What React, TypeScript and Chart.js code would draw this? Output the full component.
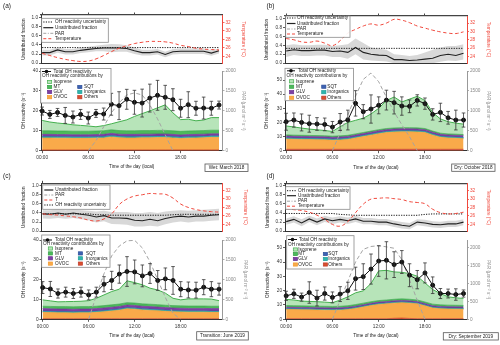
import React, { useEffect, useRef } from 'react';
import { Chart, registerables } from 'chart.js';
Chart.register(...registerables);

const FONT = "'Liberation Sans', Arial, Helvetica, sans-serif";
const TICK_FS = 4.7;
const TITLE_FS = 4.6;
const LEG_FS = 4.7;
const LH = 1.2;
const RED = '#f0483c';
const PAR_GREY = '#a3a3a3';

const hours = [0, 1, 2, 3, 4, 5, 6, 7, 8, 9, 10, 11, 12, 13, 14, 15, 16, 17, 18, 19, 20, 21, 22, 23];
const hourTicks = [0, 6, 12, 18];
const hourTickLabels = ['00:00', '06:00', '12:00', '18:00'];
const fracTicks = [0, 0.2, 0.4, 0.6, 0.8, 1.0];
const tempTicks = [24, 26, 28, 30, 32];
const parTicks = [0, 500, 1000, 1500, 2000];
const ohTicks40 = [0, 10, 20, 30, 40];
const ohTicks50 = [0, 10, 20, 30, 40, 50];

// stacking order, bottom -> top
const componentNames = ['Others', 'OVOC', 'Inorganics', 'SQT', 'GLV', 'MT', 'Isoprene'];
const componentFill = ['#d9502e', '#f9aa4a', '#2fb5ad', '#3d62b3', '#7d3fa3', '#4cba5a', '#b7e4b9'];
const componentLine = ['#c0392b', '#f39a2c', '#1f9e98', '#2d4f9a', '#6a2f90', '#34a046', '#45b04f'];
const legendCol1 = ['Isoprene', 'MT', 'GLV', 'OVOC'];
const legendCol2 = ['SQT', 'Inorganics', 'Others'];

const legendTextsStd = ['OH reactivity uncertainty', 'Unattributed fraction', 'PAR', 'Temperature'];
const legendTextsC = ['Unattributed fraction', 'PAR', 'T', 'OH reactivity uncertainty'];

// ---------- Panel (a) Wet: March 2018 ----------
const aTotal = [19.9, 18.2, 19.2, 17.7, 16.9, 18.2, 16.4, 18.7, 18.4, 23.3, 22.6, 25.8, 24.3, 23.9, 26.4, 27.8, 26.8, 25.6, 21.3, 23.1, 21.3, 21.4, 21.3, 22.9];
const aErr = [2.0, 2.0, 2.0, 4.0, 3.0, 2.5, 3.0, 2.0, 3.0, 5.5, 7.0, 5.0, 6.0, 7.0, 7.0, 7.5, 6.0, 5.5, 4.5, 6.5, 3.5, 5.5, 3.5, 2.0];
const aOthers = [0.4, 0.4, 0.4, 0.4, 0.4, 0.4, 0.4, 0.4, 0.4, 0.4, 0.4, 0.4, 0.4, 0.4, 0.4, 0.4, 0.4, 0.4, 0.4, 0.4, 0.4, 0.4, 0.4, 0.4];
const aOVOC = [6.0, 6.0, 5.9, 5.9, 5.8, 5.8, 5.8, 5.9, 6.0, 6.5, 6.1, 6.0, 6.0, 6.1, 6.1, 6.2, 6.2, 6.0, 5.7, 5.9, 6.0, 6.1, 6.3, 6.3];
const aInorg = [0.5, 0.5, 0.5, 0.5, 0.5, 0.5, 0.5, 0.5, 0.5, 0.5, 0.5, 0.5, 0.5, 0.5, 0.5, 0.5, 0.5, 0.5, 0.5, 0.5, 0.5, 0.5, 0.5, 0.5];
const aSQT = [0.3, 0.3, 0.3, 0.3, 0.3, 0.3, 0.3, 0.3, 0.3, 0.3, 0.3, 0.3, 0.3, 0.3, 0.3, 0.3, 0.3, 0.3, 0.3, 0.3, 0.3, 0.3, 0.3, 0.3];
const aGLV = [1.0, 1.0, 1.0, 1.0, 1.0, 1.0, 1.0, 1.0, 1.0, 1.0, 1.0, 1.0, 1.0, 1.0, 1.0, 1.0, 1.0, 1.0, 1.0, 1.0, 1.0, 1.0, 1.0, 1.0];
const aMT = [1.8, 1.8, 1.8, 1.8, 1.8, 1.8, 1.8, 1.8, 1.8, 1.8, 1.8, 1.8, 1.8, 1.8, 1.8, 1.8, 1.8, 1.8, 1.8, 1.8, 1.8, 1.8, 1.8, 1.8];
const aIsoprene = [5.2, 4.4, 4.0, 3.6, 3.2, 2.9, 2.6, 2.1, 2.6, 3.0, 4.4, 5.5, 7.2, 8.5, 9.9, 11.3, 12.8, 9.0, 5.9, 5.9, 5.0, 5.3, 6.3, 6.3];
const aPar = [null, null, null, null, null, null, 0, 250, 600, 950, 1200, 1400, 1450, 1400, 1150, 800, 400, 0, null, null, null, null, null, null];
const aFrac = [0.23, 0.23, 0.29, 0.25, 0.25, 0.28, 0.30, 0.32, 0.33, 0.33, 0.33, 0.32, 0.27, 0.23, 0.23, 0.25, 0.19, 0.25, 0.26, 0.26, 0.26, 0.26, 0.22, 0.27];
const aFracHi = [0.29, 0.29, 0.34, 0.31, 0.31, 0.34, 0.36, 0.38, 0.40, 0.42, 0.41, 0.39, 0.34, 0.29, 0.29, 0.31, 0.25, 0.31, 0.32, 0.32, 0.32, 0.32, 0.28, 0.32];
const aFracLo = [0.17, 0.17, 0.23, 0.19, 0.19, 0.22, 0.24, 0.26, 0.26, 0.24, 0.25, 0.25, 0.20, 0.17, 0.17, 0.19, 0.13, 0.19, 0.20, 0.20, 0.20, 0.20, 0.16, 0.21];
const aUnc = [0.34, 0.34, 0.34, 0.34, 0.34, 0.34, 0.34, 0.34, 0.34, 0.34, 0.34, 0.34, 0.34, 0.34, 0.34, 0.34, 0.34, 0.34, 0.34, 0.34, 0.34, 0.34, 0.34, 0.34];
const aTemp = [24.7, 24.2, 23.7, 23.3, 23.0, 22.8, 22.9, 23.4, 24.2, 25.1, 25.9, 26.5, 27.0, 27.3, 27.5, 27.5, 27.4, 27.1, 26.6, 26.3, 25.9, 25.7, 25.6, 25.5];

// ---------- Panel (b) Dry: October 2018 ----------
const bTotal = [20.5, 21.7, 20.0, 19.1, 18.9, 18.6, 16.7, 20.3, 21.7, 33.5, 27.6, 29.5, 32.1, 35.8, 34.0, 31.6, 31.4, 35.6, 33.3, 25.7, 27.1, 23.3, 21.7, 21.7];
const bErr = [6.0, 5.0, 6.0, 6.0, 4.5, 4.5, 4.0, 6.0, 7.0, 9.0, 5.0, 10.0, 6.0, 7.0, 8.0, 6.5, 4.5, 4.0, 4.0, 4.0, 6.5, 4.5, 7.0, 5.0];
const bOthers = [1.0, 1.0, 1.0, 1.0, 1.0, 1.0, 1.0, 1.0, 1.0, 1.0, 1.0, 1.0, 1.0, 1.0, 1.0, 1.0, 1.0, 1.0, 1.0, 1.0, 1.0, 1.0, 1.0, 1.0];
const bOVOC = [7.3, 7.1, 7.0, 6.9, 6.8, 6.7, 6.4, 6.6, 7.0, 8.0, 9.0, 10.0, 11.0, 11.8, 12.2, 12.4, 12.4, 12.3, 11.8, 10.0, 8.5, 8.0, 7.8, 7.5];
const bInorg = [0.6, 0.6, 0.6, 0.6, 0.6, 0.6, 0.6, 0.6, 0.6, 0.6, 0.6, 0.6, 0.6, 0.6, 0.6, 0.6, 0.6, 0.6, 0.6, 0.6, 0.6, 0.6, 0.6, 0.6];
const bSQT = [0.3, 0.3, 0.3, 0.3, 0.3, 0.3, 0.3, 0.3, 0.3, 0.3, 0.3, 0.3, 0.3, 0.3, 0.3, 0.3, 0.3, 0.3, 0.3, 0.3, 0.3, 0.3, 0.3, 0.3];
const bGLV = [1.2, 1.2, 1.2, 1.2, 1.2, 1.2, 1.2, 1.2, 1.2, 1.2, 1.2, 1.2, 1.2, 1.2, 1.2, 1.2, 1.2, 1.2, 1.2, 1.2, 1.2, 1.2, 1.2, 1.2];
const bMT = [0.8, 0.8, 0.8, 0.8, 0.8, 0.8, 0.8, 0.8, 0.8, 0.8, 0.8, 0.8, 0.8, 0.8, 0.8, 0.8, 0.8, 0.8, 0.8, 0.8, 0.8, 0.8, 0.8, 0.8];
const bIsoprene = [6.3, 5.8, 5.1, 4.5, 4.1, 3.7, 3.3, 6.5, 9.1, 9.6, 10.1, 12.1, 15.1, 19.8, 21.9, 18.2, 20.2, 22.3, 19.8, 13.1, 10.1, 8.6, 7.8, 7.4];
const bPar = [null, null, null, null, null, null, 0, 450, 900, 1370, 1790, 1950, 1730, 1340, 970, 650, 350, 0, null, null, null, null, null, null];
const bFrac = [0.27, 0.30, 0.28, 0.28, 0.29, 0.29, 0.26, 0.27, 0.24, 0.35, 0.24, 0.20, 0.18, 0.17, 0.08, 0.08, 0.06, 0.07, 0.09, 0.11, 0.17, 0.20, 0.17, 0.22];
const bFracHi = [0.40, 0.42, 0.40, 0.40, 0.41, 0.41, 0.38, 0.40, 0.42, 0.55, 0.45, 0.35, 0.32, 0.30, 0.20, 0.18, 0.16, 0.18, 0.24, 0.30, 0.35, 0.38, 0.38, 0.42];
const bFracLo = [0.14, 0.18, 0.16, 0.16, 0.17, 0.17, 0.14, 0.14, 0.10, 0.20, 0.08, 0.06, 0.05, 0.04, 0.00, 0.00, 0.00, 0.00, 0.00, 0.00, 0.03, 0.06, 0.05, 0.08];
const bUnc = [0.33, 0.33, 0.33, 0.33, 0.33, 0.33, 0.33, 0.33, 0.33, 0.33, 0.33, 0.33, 0.33, 0.33, 0.33, 0.33, 0.33, 0.33, 0.33, 0.33, 0.33, 0.33, 0.33, 0.33];
const bTemp = [28.3, 28.0, 27.5, 27.4, 27.7, 27.2, 26.6, 27.8, 29.6, 30.5, 31.3, 31.8, 31.5, 32.0, 32.9, 32.7, 32.1, 31.3, 30.8, 30.3, 29.9, 29.6, 29.5, 29.9];

// ---------- Panel (c) Transition: June 2019 ----------
const cTotal = [16.0, 15.3, 13.0, 13.7, 13.0, 13.7, 12.3, 13.7, 17.7, 19.6, 22.8, 24.1, 23.9, 21.9, 23.1, 19.6, 20.4, 19.6, 15.2, 14.8, 14.7, 16.2, 15.2, 15.2];
const cErr = [3.0, 3.8, 2.3, 2.5, 2.5, 2.5, 2.5, 2.5, 3.8, 4.6, 4.6, 7.5, 6.0, 5.5, 5.0, 5.0, 5.5, 7.0, 3.8, 4.0, 4.0, 3.8, 3.8, 3.0];
const cOthers = [0.3, 0.3, 0.3, 0.3, 0.3, 0.3, 0.3, 0.3, 0.3, 0.3, 0.3, 0.3, 0.3, 0.3, 0.3, 0.3, 0.3, 0.3, 0.3, 0.3, 0.3, 0.3, 0.3, 0.3];
const cOVOC = [3.2, 3.1, 3.0, 3.0, 2.9, 3.0, 3.0, 3.2, 3.5, 3.9, 4.3, 5.0, 4.8, 4.4, 4.2, 4.0, 3.7, 3.5, 3.4, 3.3, 3.3, 3.3, 3.2, 3.2];
const cInorg = [0.4, 0.4, 0.4, 0.4, 0.4, 0.4, 0.4, 0.4, 0.4, 0.4, 0.4, 0.4, 0.4, 0.4, 0.4, 0.4, 0.4, 0.4, 0.4, 0.4, 0.4, 0.4, 0.4, 0.4];
const cSQT = [0.3, 0.3, 0.3, 0.3, 0.3, 0.3, 0.3, 0.3, 0.3, 0.3, 0.3, 0.3, 0.3, 0.3, 0.3, 0.3, 0.3, 0.3, 0.3, 0.3, 0.3, 0.3, 0.3, 0.3];
const cGLV = [1.2, 1.2, 1.2, 1.2, 1.2, 1.2, 1.2, 1.2, 1.2, 1.2, 1.2, 1.2, 1.2, 1.2, 1.2, 1.2, 1.2, 1.2, 1.2, 1.2, 1.2, 1.2, 1.2, 1.2];
const cMT = [1.2, 1.2, 1.2, 1.2, 1.2, 1.2, 1.2, 1.2, 1.2, 1.2, 1.2, 1.2, 1.2, 1.2, 1.2, 1.2, 1.2, 1.2, 1.2, 1.2, 1.2, 1.2, 1.2, 1.2];
const cIsoprene = [3.2, 2.8, 2.4, 2.5, 2.7, 2.7, 3.0, 4.0, 5.4, 6.7, 7.5, 11.0, 10.3, 9.6, 8.1, 7.4, 6.1, 3.7, 3.0, 3.6, 3.6, 3.6, 3.6, 2.8];
const cPar = [null, null, null, null, null, null, 0, 600, 1150, 1600, 1850, 1980, 1990, 1800, 1450, 1000, 550, 150, 0, null, null, null, null, null];
const cFrac = [0.38, 0.37, 0.40, 0.37, 0.40, 0.37, 0.35, 0.31, 0.34, 0.29, 0.29, 0.28, 0.24, 0.23, 0.26, 0.23, 0.28, 0.31, 0.33, 0.31, 0.33, 0.33, 0.35, 0.36];
const cFracHi = [0.46, 0.46, 0.48, 0.46, 0.48, 0.46, 0.45, 0.43, 0.45, 0.42, 0.42, 0.42, 0.40, 0.40, 0.42, 0.40, 0.43, 0.45, 0.46, 0.45, 0.46, 0.47, 0.48, 0.49];
const cFracLo = [0.28, 0.27, 0.29, 0.27, 0.29, 0.26, 0.24, 0.19, 0.22, 0.16, 0.15, 0.14, 0.10, 0.10, 0.12, 0.10, 0.15, 0.19, 0.21, 0.19, 0.21, 0.21, 0.23, 0.24];
const cUnc = [0.38, 0.38, 0.38, 0.38, 0.38, 0.38, 0.38, 0.36, 0.36, 0.35, 0.35, 0.35, 0.35, 0.35, 0.35, 0.35, 0.35, 0.36, 0.37, 0.37, 0.37, 0.37, 0.37, 0.37];
const cTemp = [26.5, 26.3, 26.2, 26.0, 25.8, 25.5, 25.0, 24.8, 25.3, 26.5, 28.7, 30.0, 30.7, 31.0, 31.3, 31.2, 31.1, 30.2, 28.8, 28.0, 27.5, 27.2, 27.0, 26.9];

// ---------- Panel (d) Dry: September 2019 ----------
const dTotal = [16.4, 17.8, 15.5, 18.7, 14.8, 18.0, 15.3, 17.6, 19.9, 28.4, 29.8, 35.1, 40.7, 41.2, 38.2, 40.0, 30.8, 27.7, 32.4, 23.8, 18.0, 18.0, 17.3, 18.0];
const dErr = [3.2, 3.2, 2.8, 7.5, 5.5, 4.6, 3.8, 5.2, 6.0, 8.0, 9.0, 10.5, 10.7, 13.0, 9.0, 8.0, 8.0, 6.4, 7.0, 5.8, 3.5, 3.1, 4.0, 2.5];
const dOthers = [0.4, 0.4, 0.4, 0.4, 0.4, 0.4, 0.4, 0.4, 0.4, 0.4, 0.4, 0.4, 0.4, 0.4, 0.7, 0.9, 0.6, 0.4, 0.4, 0.4, 0.4, 0.4, 0.4, 0.4];
const dOVOC = [6.5, 6.4, 6.3, 6.2, 6.1, 6.0, 5.9, 6.0, 6.4, 7.2, 8.2, 9.2, 10.0, 10.4, 10.6, 10.7, 10.7, 10.4, 9.0, 7.5, 7.0, 6.8, 6.7, 6.6];
const dInorg = [0.4, 0.4, 0.4, 0.4, 0.4, 0.4, 0.4, 0.4, 0.4, 0.4, 0.4, 0.4, 0.4, 0.4, 0.4, 0.4, 0.4, 0.4, 0.4, 0.4, 0.4, 0.4, 0.4, 0.4];
const dSQT = [0.3, 0.3, 0.3, 0.3, 0.3, 0.3, 0.3, 0.3, 0.3, 0.3, 0.3, 0.3, 0.3, 0.3, 0.3, 0.3, 0.3, 0.3, 0.3, 0.3, 0.3, 0.3, 0.3, 0.3];
const dGLV = [0.9, 0.9, 0.9, 0.9, 0.9, 0.9, 0.9, 0.9, 0.9, 0.9, 0.9, 0.9, 0.9, 0.9, 0.9, 0.9, 0.9, 0.9, 0.9, 0.9, 0.9, 0.9, 0.9, 0.9];
const dMT = [1.1, 1.1, 1.1, 1.1, 1.1, 1.1, 1.1, 1.1, 1.1, 1.1, 1.1, 1.1, 1.1, 1.1, 1.1, 1.1, 1.1, 1.1, 1.1, 1.1, 1.1, 1.1, 1.1, 1.1];
const dIsoprene = [4.3, 4.0, 3.3, 3.2, 3.1, 2.9, 2.6, 4.3, 6.2, 8.2, 8.6, 12.7, 20.7, 20.7, 19.1, 18.5, 17.9, 16.6, 13.3, 10.2, 7.9, 5.8, 5.2, 4.9];
const dPar = [null, null, null, null, null, null, 0, 530, 1060, 1600, 1950, 2030, 2050, 2020, 1980, 1660, 1100, 530, 0, null, null, null, null, null];
const dFrac = [0.21, 0.26, 0.18, 0.27, 0.20, 0.27, 0.23, 0.26, 0.23, 0.27, 0.22, 0.22, 0.20, 0.20, 0.16, 0.13, 0.11, 0.20, 0.18, 0.15, 0.14, 0.16, 0.16, 0.20];
const dFracHi = [0.28, 0.33, 0.26, 0.34, 0.28, 0.34, 0.30, 0.33, 0.30, 0.34, 0.29, 0.29, 0.27, 0.27, 0.23, 0.20, 0.18, 0.26, 0.25, 0.22, 0.21, 0.23, 0.23, 0.26];
const dFracLo = [0.14, 0.19, 0.11, 0.20, 0.13, 0.20, 0.16, 0.19, 0.16, 0.20, 0.15, 0.15, 0.13, 0.13, 0.09, 0.06, 0.04, 0.13, 0.11, 0.08, 0.07, 0.09, 0.09, 0.13];
const dUnc = [0.39, 0.39, 0.39, 0.39, 0.39, 0.39, 0.39, 0.37, 0.36, 0.35, 0.35, 0.35, 0.35, 0.35, 0.35, 0.35, 0.35, 0.35, 0.37, 0.38, 0.38, 0.38, 0.38, 0.38];
const dTemp = [27.7, 27.5, 27.3, 26.9, 26.2, 25.2, 24.0, 23.6, 24.7, 26.8, 28.8, 30.0, 30.2, 30.3, 30.1, 29.9, 29.4, 29.2, 28.9, 27.6, 26.8, 26.5, 26.6, 26.9];

const panels = [
  {
    label: '(a)', labelPos: [3, 6], tag: 'Wet: March 2018', tagBox: [205, 164, 248, 171.5],
    topCanvas: { x: 0, y: 0, w: 250, h: 67 }, topPlot: { L: 41, T: 15, R: 222.5, B: 64.3 },
    botCanvas: { x: 0, y: 65, w: 250, h: 110 }, botPlot: { L: 41, T: 71, R: 222.5, B: 150.7 },
    leftTitleX: 23.3, rightTitleX: 243.3, bottomTitleY: 167,
    ohMax: 40, ohTicks: ohTicks40, parMax: 2000,
    topLegend: { box: [41.7, 18.3, 108.3, 42.3], rows: [22, 27.7, 33.3, 38.7], keys: ['unc', 'frac', 'par', 'temp'], texts: legendTextsStd, sx: [43.3, 53.3], tx: 55 },
    botLegend: { box: [40.5, 68.5, 111, 103], totalY: 71.5, sx: [42, 51], tx: 53.5, headX: 42, headY: 76, rows: [82, 87, 92, 97.2], c1p: 47.5, c1t: 53.5, c2p: 77.7, c2t: 84 },
    frac: aFrac, fracLo: aFracLo, fracHi: aFracHi, unc: aUnc, temp: aTemp,
    comps: [aOthers, aOVOC, aInorg, aSQT, aGLV, aMT, aIsoprene], total: aTotal, err: aErr, par: aPar,
  },
  {
    label: '(b)', labelPos: [266.5, 6], tag: 'Dry: October 2018', tagBox: [451.7, 164, 495, 171.3],
    topCanvas: { x: 250, y: 0, w: 250, h: 67 }, topPlot: { L: 285, T: 16, R: 467, B: 65.3 },
    botCanvas: { x: 250, y: 65, w: 250, h: 110 }, botPlot: { L: 285, T: 71, R: 467, B: 150.7 },
    leftTitleX: 267, rightTitleX: 488.5, bottomTitleY: 167.3,
    ohMax: 56.4, ohTicks: ohTicks50, parMax: 2000,
    topLegend: { box: [285.7, 16, 350, 37.3], rows: [18, 23.5, 29, 34], keys: ['unc', 'frac', 'par', 'temp'], texts: legendTextsStd, sx: [287, 295.5], tx: 297 },
    botLegend: { box: [285, 68.3, 353.5, 100.7], totalY: 70.8, sx: [287, 295], tx: 298, headX: 286.5, headY: 75.3, rows: [81.3, 86.7, 92.2, 97.7], c1p: 289.5, c1t: 296, c2p: 321.7, c2t: 327.3 },
    frac: bFrac, fracLo: bFracLo, fracHi: bFracHi, unc: bUnc, temp: bTemp,
    comps: [bOthers, bOVOC, bInorg, bSQT, bGLV, bMT, bIsoprene], total: bTotal, err: bErr, par: bPar,
  },
  {
    label: '(c)', labelPos: [3, 176], tag: 'Transition: June 2019', tagBox: [196.7, 331.7, 248.3, 340],
    topCanvas: { x: 0, y: 170, w: 250, h: 65 }, topPlot: { L: 41.5, T: 183.3, R: 222.5, B: 233.3 },
    botCanvas: { x: 0, y: 233, w: 250, h: 112 }, botPlot: { L: 41.5, T: 240, R: 222.5, B: 319.3 },
    leftTitleX: 24, rightTitleX: 245, bottomTitleY: 336,
    ohMax: 40, ohTicks: ohTicks40, parMax: 2000,
    topLegend: { box: [42.7, 185, 110, 209.3], rows: [190, 195, 200, 205], keys: ['frac', 'par', 'temp', 'unc'], texts: legendTextsC, sx: [44.3, 53.3], tx: 55.3 },
    botLegend: { box: [41.7, 235, 110, 267.3], totalY: 240, sx: [43, 52], tx: 55, headX: 43, headY: 244, rows: [248.5, 253.4, 258.3, 263.6], c1p: 48.3, c1t: 55, c2p: 78.3, c2t: 86 },
    frac: cFrac, fracLo: cFracLo, fracHi: cFracHi, unc: cUnc, temp: cTemp,
    comps: [cOthers, cOVOC, cInorg, cSQT, cGLV, cMT, cIsoprene], total: cTotal, err: cErr, par: cPar,
  },
  {
    label: '(d)', labelPos: [266.5, 176], tag: 'Dry: September 2019', tagBox: [443.3, 332.7, 498.3, 340],
    topCanvas: { x: 250, y: 170, w: 250, h: 65 }, topPlot: { L: 285, T: 183.5, R: 467, B: 232.7 },
    botCanvas: { x: 250, y: 233, w: 250, h: 112 }, botPlot: { L: 285, T: 240, R: 467, B: 319.3 },
    leftTitleX: 267.5, rightTitleX: 488.5, bottomTitleY: 336,
    ohMax: 55.4, ohTicks: ohTicks50, parMax: 2210,
    topLegend: { box: [285.7, 186.7, 350, 209.3], rows: [190.7, 195.7, 201.2, 206.2], keys: ['unc', 'frac', 'par', 'temp'], texts: legendTextsStd, sx: [287, 296], tx: 298 },
    botLegend: { box: [286.7, 235.7, 354, 269], totalY: 239.5, sx: [288, 297], tx: 299, headX: 288, headY: 244.3, rows: [249.5, 254, 259, 264.5], c1p: 293.3, c1t: 298.3, c2p: 323.3, c2t: 328.3 },
    frac: dFrac, fracLo: dFracLo, fracHi: dFracHi, unc: dUnc, temp: dTemp,
    comps: [dOthers, dOVOC, dInorg, dSQT, dGLV, dMT, dIsoprene], total: dTotal, err: dErr, par: dPar,
  },
];

const font = (size: number) => ({ family: FONT, size, lineHeight: LH });
const fixW = (w: number) => (s: any) => { s.width = w; };
const fixH = (h: number) => (s: any) => { s.height = h; };
const setTicks = (vals: number[]) => (s: any) => { s.ticks = vals.map((v) => ({ value: v })); };
const pts = (arr: (number | null)[]) => hours.map((h, i) => ({ x: h, y: arr[i] }));
const padFor = (offset: number, fs: number) => Math.max(0, offset - (fs * LH) / 2);
const plain = (v: number) => String(v);

function lineStyle(ctx: CanvasRenderingContext2D, kind: string) {
  if (kind === 'unc') { ctx.strokeStyle = '#111'; ctx.lineWidth = 1; ctx.setLineDash([1.2, 1.3]); }
  else if (kind === 'frac') { ctx.strokeStyle = '#222'; ctx.lineWidth = 1.2; ctx.setLineDash([]); }
  else if (kind === 'par') { ctx.strokeStyle = PAR_GREY; ctx.lineWidth = 1; ctx.setLineDash([3, 1.5, 1, 1.5]); }
  else { ctx.strokeStyle = RED; ctx.lineWidth = 1; ctx.setLineDash([3, 2]); }
}

function drawBox(ctx: CanvasRenderingContext2D, b: number[], ox: number, oy: number, stroke: string, alpha = 0.92) {
  ctx.save();
  ctx.setLineDash([]);
  ctx.fillStyle = `rgba(255,255,255,${alpha})`;
  ctx.strokeStyle = stroke;
  ctx.lineWidth = 0.8;
  ctx.fillRect(b[0] - ox, b[1] - oy, b[2] - b[0], b[3] - b[1]);
  ctx.strokeRect(b[0] - ox, b[1] - oy, b[2] - b[0], b[3] - b[1]);
  ctx.restore();
}

function text(ctx: CanvasRenderingContext2D, s: string, x: number, y: number, size: number, color = '#222', align: CanvasTextAlign = 'left') {
  ctx.save();
  ctx.font = `${size}px ${FONT}`;
  ctx.fillStyle = color;
  ctx.textAlign = align;
  ctx.textBaseline = 'middle';
  ctx.fillText(s, x, y);
  ctx.restore();
}

function topDecor(p: any) {
  const c = p.topCanvas;
  return {
    id: 'topDecor',
    afterDraw(chart: any) {
      const ctx = chart.ctx as CanvasRenderingContext2D;
      const ox = c.x, oy = c.y;
      const L = p.topLegend;
      drawBox(ctx, L.box, ox, oy, '#8a8a8a');
      L.keys.forEach((k: string, i: number) => {
        const y = L.rows[i] - oy;
        ctx.save();
        lineStyle(ctx, k);
        ctx.beginPath();
        ctx.moveTo(L.sx[0] - ox, y);
        ctx.lineTo(L.sx[1] - ox, y);
        ctx.stroke();
        ctx.restore();
        text(ctx, L.texts[i], L.tx - ox, y, LEG_FS);
      });
      text(ctx, p.label, p.labelPos[0] - ox, p.labelPos[1] - oy, 6.5, '#222');
    },
  };
}

function bottomDecor(p: any) {
  const c = p.botCanvas;
  return {
    id: 'bottomDecor',
    afterDatasetsDraw(chart: any) {
      const ctx = chart.ctx as CanvasRenderingContext2D;
      const xs = chart.scales.x, ys = chart.scales.y;
      ctx.save();
      ctx.strokeStyle = '#333';
      ctx.lineWidth = 0.8;
      ctx.setLineDash([]);
      p.total.forEach((v: number, i: number) => {
        const px = xs.getPixelForValue(hours[i]);
        const y1 = ys.getPixelForValue(v - p.err[i]);
        const y2 = ys.getPixelForValue(v + p.err[i]);
        ctx.beginPath();
        ctx.moveTo(px, y1); ctx.lineTo(px, y2);
        ctx.moveTo(px - 1.8, y1); ctx.lineTo(px + 1.8, y1);
        ctx.moveTo(px - 1.8, y2); ctx.lineTo(px + 1.8, y2);
        ctx.stroke();
      });
      ctx.restore();
    },
    afterDraw(chart: any) {
      const ctx = chart.ctx as CanvasRenderingContext2D;
      const ox = c.x, oy = c.y;
      const L = p.botLegend;
      drawBox(ctx, L.box, ox, oy, '#8a8a8a');
      const ty = L.totalY - oy;
      ctx.save();
      ctx.strokeStyle = '#111'; ctx.lineWidth = 1; ctx.setLineDash([]);
      ctx.beginPath(); ctx.moveTo(L.sx[0] - ox, ty); ctx.lineTo(L.sx[1] - ox, ty); ctx.stroke();
      ctx.fillStyle = '#111';
      ctx.beginPath(); ctx.arc((L.sx[0] + L.sx[1]) / 2 - ox, ty, 1.8, 0, Math.PI * 2); ctx.fill();
      ctx.restore();
      text(ctx, 'Total OH reactivity', L.tx - ox, ty, LEG_FS);
      text(ctx, 'OH reactivity contributions by', L.headX - ox, L.headY - oy, LEG_FS);
      const patch = (name: string, px: number, tx: number, row: number) => {
        const idx = componentNames.indexOf(name);
        const y = L.rows[row] - oy;
        ctx.save();
        ctx.fillStyle = componentFill[idx];
        ctx.strokeStyle = componentLine[idx];
        ctx.lineWidth = 0.7;
        ctx.fillRect(px - ox, y - 1.6, 4.2, 3.2);
        ctx.strokeRect(px - ox, y - 1.6, 4.2, 3.2);
        ctx.restore();
        text(ctx, name, tx - ox, y, LEG_FS);
      };
      legendCol1.forEach((n, i) => patch(n, L.c1p, L.c1t, i));
      legendCol2.forEach((n, i) => patch(n, L.c2p, L.c2t, i + 1));
      drawBox(ctx, p.tagBox, ox, oy, '#555', 1);
      text(ctx, p.tag, (p.tagBox[0] + p.tagBox[2]) / 2 - ox, (p.tagBox[1] + p.tagBox[3]) / 2 - oy, 4.7, '#222', 'center');
    },
  };
}

function topConfig(p: any) {
  const c = p.topCanvas, pl = p.topPlot;
  const leftW = pl.L - c.x, rightW = c.x + c.w - pl.R, topH = pl.T - c.y, botH = c.y + c.h - pl.B;
  return {
    type: 'line',
    data: {
      datasets: [
        { label: 'band low', data: pts(p.fracLo), yAxisID: 'y', borderWidth: 0, pointRadius: 0, fill: false, order: 5 },
        { label: 'band high', data: pts(p.fracHi), yAxisID: 'y', borderWidth: 0, pointRadius: 0, fill: '-1', backgroundColor: 'rgba(200,200,200,0.7)', order: 4 },
        { label: 'Unattributed fraction', data: pts(p.frac), yAxisID: 'y', borderColor: '#222', borderWidth: 1.1, pointRadius: 0, fill: false, order: 2 },
        { label: 'OH reactivity uncertainty', data: pts(p.unc), yAxisID: 'y', borderColor: '#111', borderWidth: 1, borderDash: [1.2, 1.3], pointRadius: 0, fill: false, order: 1 },
        { label: 'Temperature', data: pts(p.temp), yAxisID: 'yT', borderColor: RED, borderWidth: 1, borderDash: [3.5, 2.5], pointRadius: 0, fill: false, tension: 0.4, order: 0 },
      ],
    },
    options: {
      responsive: false, animation: false, devicePixelRatio: 1, events: [],
      layout: { padding: 0 },
      plugins: { legend: { display: false }, tooltip: { enabled: false } },
      scales: {
        x: {
          type: 'linear', position: 'bottom', min: -0.15, max: 23.45,
          afterBuildTicks: setTicks(hourTicks), ticks: { display: false },
          grid: { display: false }, border: { display: true, color: '#333', width: 1 },
          afterFit: fixH(botH),
        },
        x2: {
          type: 'linear', position: 'top', min: -0.15, max: 23.45,
          afterBuildTicks: setTicks(hourTicks), ticks: { display: false },
          grid: { display: true, drawOnChartArea: false, drawTicks: true, tickLength: 2.5, color: '#333', tickWidth: 0.9 },
          border: { display: true, color: '#444', width: 1.3 },
          afterFit: fixH(topH),
        },
        y: {
          type: 'linear', position: 'left', min: 0, max: 1.05,
          afterBuildTicks: setTicks(fracTicks),
          ticks: { font: font(TICK_FS), color: '#333', padding: 1, callback: (v: number) => v.toFixed(1) },
          grid: { display: true, drawOnChartArea: false, drawTicks: true, tickLength: 2, color: '#333', tickWidth: 0.8 },
          border: { display: true, color: '#333', width: 1 },
          title: { display: true, text: 'Unattributed fraction', font: font(TITLE_FS), color: '#222', padding: { top: padFor(p.leftTitleX - c.x, TITLE_FS), bottom: 0 } },
          afterFit: fixW(leftW),
        },
        yT: {
          type: 'linear', position: 'right', min: 22.4, max: 33.7,
          afterBuildTicks: setTicks(tempTicks),
          ticks: { font: font(TICK_FS), color: RED, padding: 1, callback: plain },
          grid: { display: true, drawOnChartArea: false, drawTicks: true, tickLength: 2, color: RED, tickWidth: 0.8 },
          border: { display: true, color: RED, width: 1 },
          title: { display: true, text: 'Temperature (\u00B0C)', font: font(TITLE_FS), color: RED, padding: { top: padFor(c.x + c.w - p.rightTitleX, TITLE_FS), bottom: 0 } },
          afterFit: fixW(rightW),
        },
      },
    },
    plugins: [topDecor(p)],
  };
}

function bottomConfig(p: any) {
  const c = p.botCanvas, pl = p.botPlot;
  const leftW = pl.L - c.x, rightW = c.x + c.w - pl.R, topPad = pl.T - c.y, botH = c.y + c.h - pl.B;
  const datasets: any[] = p.comps.map((arr: number[], i: number) => ({
    label: componentNames[i], data: pts(arr), yAxisID: 'y', stack: 'comp',
    fill: i === 0 ? 'origin' : '-1',
    backgroundColor: componentFill[i], borderColor: componentLine[i],
    borderWidth: i === 6 ? 1 : 0.6, pointRadius: 0, order: 10 + i,
  }));
  datasets.push({
    label: 'Total OH reactivity', data: pts(p.total), yAxisID: 'y', stack: 'total',
    borderColor: '#111', backgroundColor: '#111', pointBackgroundColor: '#111', pointBorderColor: '#111',
    borderWidth: 1, pointRadius: 2, pointStyle: 'circle', fill: false, order: 0, clip: 6,
  });
  datasets.push({
    label: 'PAR', data: pts(p.par), yAxisID: 'yP', borderColor: PAR_GREY, borderWidth: 1,
    borderDash: [4, 2.5], pointRadius: 0, fill: false, order: 1, spanGaps: false,
  });
  return {
    type: 'line',
    data: { datasets },
    options: {
      responsive: false, animation: false, devicePixelRatio: 1, events: [],
      layout: { padding: { top: topPad, left: 0, right: 0, bottom: 0 } },
      plugins: { legend: { display: false }, tooltip: { enabled: false } },
      scales: {
        x: {
          type: 'linear', position: 'bottom', min: -0.15, max: 23.45,
          afterBuildTicks: setTicks(hourTicks),
          ticks: { font: font(TICK_FS), color: '#333', padding: 2, maxRotation: 0, callback: (v: number) => hourTickLabels[hourTicks.indexOf(v)] ?? '' },
          grid: { display: true, drawOnChartArea: false, drawTicks: true, tickLength: 2.5, color: '#333', tickWidth: 0.8 },
          border: { display: true, color: '#333', width: 1 },
          title: { display: true, text: 'Time of the day (local)', font: font(TITLE_FS), color: '#222', padding: { top: 0, bottom: padFor(c.y + c.h - p.bottomTitleY, TITLE_FS) } },
          afterFit: fixH(botH),
        },
        y: {
          type: 'linear', position: 'left', min: 0, max: p.ohMax, stacked: true,
          afterBuildTicks: setTicks(p.ohTicks),
          ticks: { font: font(TICK_FS), color: '#333', padding: 1, callback: plain },
          grid: { display: true, drawOnChartArea: false, drawTicks: true, tickLength: 2, color: '#333', tickWidth: 0.8 },
          border: { display: true, color: '#333', width: 1 },
          title: { display: true, text: 'OH reactivity (s\u207B\u00B9)', font: font(TITLE_FS), color: '#222', padding: { top: padFor(p.leftTitleX - c.x, TITLE_FS), bottom: 0 } },
          afterFit: fixW(leftW),
        },
        yP: {
          type: 'linear', position: 'right', min: 0, max: p.parMax,
          afterBuildTicks: setTicks(parTicks),
          ticks: { font: font(TICK_FS), color: '#888', padding: 1, callback: plain },
          grid: { display: true, drawOnChartArea: false, drawTicks: true, tickLength: 2, color: '#999', tickWidth: 0.8 },
          border: { display: true, color: '#999', width: 1 },
          title: { display: true, text: 'PAR (\u03BCmol m\u207B\u00B2 s\u207B\u00B9)', font: font(TITLE_FS), color: '#888', padding: { top: padFor(c.x + c.w - p.rightTitleX, TITLE_FS), bottom: 0 } },
          afterFit: fixW(rightW),
        },
      },
    },
    plugins: [bottomDecor(p)],
  };
}

export default function App() {
  const refs = useRef<(HTMLCanvasElement | null)[]>([]);
  useEffect(() => {
    const charts: Chart[] = [];
    panels.forEach((p, i) => {
      const t = refs.current[i * 2];
      const b = refs.current[i * 2 + 1];
      if (t) charts.push(new Chart(t, topConfig(p) as any));
      if (b) charts.push(new Chart(b, bottomConfig(p) as any));
    });
    return () => charts.forEach((ch) => ch.destroy());
  }, []);
  const cv = (r: any, key: string, idx: number) => (
    <canvas
      key={key}
      ref={(el) => { refs.current[idx] = el; }}
      width={r.w}
      height={r.h}
      style={{ position: 'absolute', left: r.x, top: r.y, width: r.w, height: r.h }}
    />
  );
  return (
    <div style={{ position: 'fixed', left: 0, top: 0, width: 500, height: 345, background: '#fff', overflow: 'hidden' }}>
      {panels.map((p, i) => [cv(p.topCanvas, 't' + i, i * 2), cv(p.botCanvas, 'b' + i, i * 2 + 1)])}
    </div>
  );
}
